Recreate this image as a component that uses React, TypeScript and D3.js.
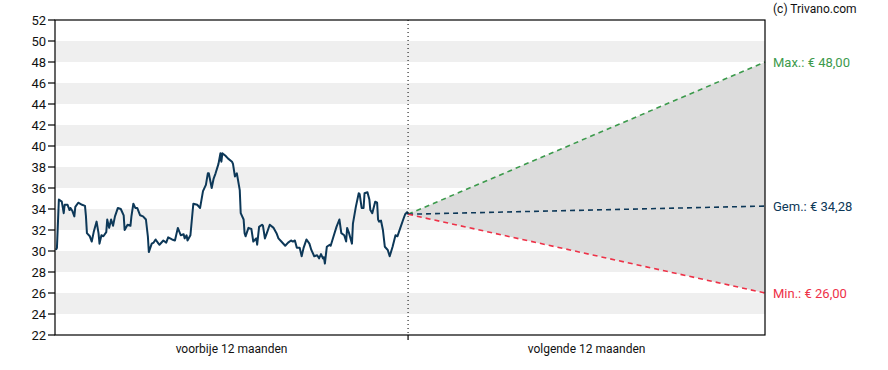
import React from 'react';
import * as d3 from 'd3';

// past 12 months: [day offset from today, price]
const historyDays = [
  -364, -363, -361, -358, -356, -355, -352, -350, -349, -347, -345, -344, -341, -337, -334, -333,
  -332, -329, -327, -325, -322, -320, -319, -317, -315, -312, -311, -309, -307, -305, -303, -300,
  -297, -294, -293, -290, -287, -286, -284, -282, -280, -277, -274, -271, -269, -268, -265, -263,
  -261, -258, -257, -253, -250, -248, -244, -241, -238, -235, -232, -231, -229, -228, -225, -222,
  -218, -215, -212, -209, -207, -206, -203, -201, -199, -196, -194, -193, -192, -189, -186, -182,
  -181, -179, -177, -174, -173, -170, -169, -168, -165, -162, -160, -157, -156, -154, -151, -150,
  -148, -146, -143, -139, -136, -134, -131, -127, -124, -121, -119, -117, -115, -112, -110, -108,
  -105, -102, -100, -97, -94, -92, -90, -88, -87, -86, -84, -81, -80, -77, -74, -71,
  -69, -66, -64, -63, -61, -58, -57, -54, -51, -50, -48, -46, -45, -42, -40, -39,
  -37, -34, -32, -31, -30, -28, -26, -24, -21, -19, -16, -13, -11, -8, -5, -3, -1, 0,
];
const historyPrices = [
  30.1, 30.3, 34.9, 34.7, 33.6, 34.4, 34.4, 33.9, 34.1, 33.8, 33.3, 34.2, 34.6, 34.4, 34.3, 33.3,
  31.7, 31.4, 30.9, 31.8, 32.8, 31.7, 30.7, 31.5, 31.4, 31.8, 33.0, 32.2, 33.0, 32.4, 33.3, 34.1,
  34.0, 33.4, 32.0, 32.5, 32.4, 33.3, 34.5, 34.1, 34.1, 33.4, 33.3, 33.0, 31.4, 29.9, 30.7, 30.8,
  31.1, 30.7, 30.6, 31.0, 30.8, 31.3, 31.1, 31.0, 32.2, 31.5, 31.6, 31.2, 31.5, 31.0, 31.5, 34.5,
  34.4, 34.1, 35.7, 36.3, 37.4, 37.4, 36.0, 36.9, 37.4, 38.3, 39.3, 38.5, 39.3, 39.1, 38.8, 38.5,
  38.3, 37.1, 37.4, 35.8, 33.6, 33.0, 31.7, 31.4, 32.2, 32.1, 30.9, 31.2, 30.6, 32.3, 32.5, 32.4,
  31.2, 31.7, 32.5, 32.2, 31.7, 31.2, 30.9, 30.5, 30.8, 31.0, 30.9, 31.0, 30.3, 30.3, 29.5, 30.3,
  31.1, 30.7, 30.1, 29.5, 29.6, 29.3, 29.7, 29.3, 29.4, 28.8, 30.4, 30.6, 30.5, 31.4, 32.3, 33.0,
  31.7, 31.5, 30.9, 32.2, 31.7, 30.7, 32.6, 34.2, 35.5, 35.4, 34.1, 34.1, 35.5, 35.6, 34.9, 33.9,
  33.6, 34.7, 34.6, 33.0, 32.8, 32.9, 32.0, 30.4, 30.1, 29.5, 30.4, 31.5, 31.4, 32.2, 33.0, 33.5, 33.7, 33.5,
];

// analyst targets for the next 12 months
const forecastStart = 33.5;
const forecastEndDay = 369;
const targetMax = 48.0;
const targetAvg = 34.28;
const targetMin = 26.0;

const yTicks = [22, 24, 26, 28, 30, 32, 34, 36, 38, 40, 42, 44, 46, 48, 50, 52];
const bandStarts = [24, 28, 32, 36, 40, 44, 48];
const periodLabels = ['voorbije 12 maanden', 'volgende 12 maanden'];

const W = 888;
const H = 370;
const margin = { top: 20, right: 123, bottom: 35, left: 55 };

const green = '#3c9a4c';
const navy = '#0d3858';
const red = '#ee3147';
const font = 'Roboto, Arial, sans-serif';
const fmt = (v: number) => '€ ' + v.toFixed(2).replace('.', ',');

export default function App() {
  const x = d3.scaleLinear().domain([-365, forecastEndDay]).range([margin.left, W - margin.right]);
  const y = d3.scaleLinear().domain([22, 52]).range([H - margin.bottom, margin.top]);

  const pts = historyDays.map((d, i) => [d, historyPrices[i]] as [number, number]);
  const line = d3.line<[number, number]>().x(d => x(d[0])).y(d => y(d[1]));

  const x0 = x.range()[0];
  const x1 = x.range()[1];
  const y0 = y.range()[0];
  const yTop = y.range()[1];
  const xNow = x(0);
  const xEnd = x(forecastEndDay);

  const fan = d3.area<[number, number, number]>()
    .x(d => x(d[0]))
    .y0(d => y(d[1]))
    .y1(d => y(d[2]));

  const targets = [
    { v: targetMax, color: green, label: 'Max.: ' + fmt(targetMax) },
    { v: targetAvg, color: navy, label: 'Gem.: ' + fmt(targetAvg) },
    { v: targetMin, color: red, label: 'Min.: ' + fmt(targetMin) },
  ];

  return (
    <div style={{ position: 'absolute', left: 0, top: 0 }}>
      <svg width={W} height={H} style={{ display: 'block', fontFamily: font }}>
        {bandStarts.map(b => (
          <rect key={b} x={x0} width={x1 - x0} y={y(b + 2)} height={y(b) - y(b + 2)} fill="#efefef" />
        ))}

        <path
          d={fan([[0, forecastStart, forecastStart], [forecastEndDay, targetMin, targetMax]]) || ''}
          fill="#dcdcdc"
        />

        {targets.map(t => (
          <line key={t.label} x1={xNow} y1={y(forecastStart)} x2={xEnd} y2={y(t.v)}
            stroke={t.color} strokeWidth={1.6} strokeDasharray="5,4" />
        ))}

        <path d={line(pts) || ''} fill="none" stroke={navy} strokeWidth={2} strokeLinejoin="round" />

        <line x1={xNow} x2={xNow} y1={yTop} y2={y0} stroke="#000" strokeWidth={1} strokeDasharray="1,3" />

        <rect x={x0} y={yTop} width={x1 - x0} height={y0 - yTop} fill="none" stroke="#000" strokeWidth={1.2} />
        <line x1={xNow} x2={xNow} y1={y0} y2={y0 + 5} stroke="#000" strokeWidth={1.2} />

        {yTicks.map(t => (
          <g key={t}>
            <line x1={x0 - 7} x2={x0} y1={y(t)} y2={y(t)} stroke="#000" strokeWidth={1.2} />
            <text x={x0 - 9} y={y(t)} dy="0.36em" textAnchor="end" fontSize={13} fill="#111">{t}</text>
          </g>
        ))}

        <text x={(x0 + xNow) / 2} y={y0 + 18} textAnchor="middle" fontSize={12} fill="#111">{periodLabels[0]}</text>
        <text x={(xNow + x1) / 2} y={y0 + 18} textAnchor="middle" fontSize={12} fill="#111">{periodLabels[1]}</text>

        {targets.map(t => (
          <text key={t.label} x={x1 + 8} y={y(t.v)} dy="0.36em" fontSize={13} fill={t.color}>{t.label}</text>
        ))}

        <text x={x1 + 8} y={13} fontSize={12} fill="#111">(c) Trivano.com</text>
      </svg>
    </div>
  );
}
